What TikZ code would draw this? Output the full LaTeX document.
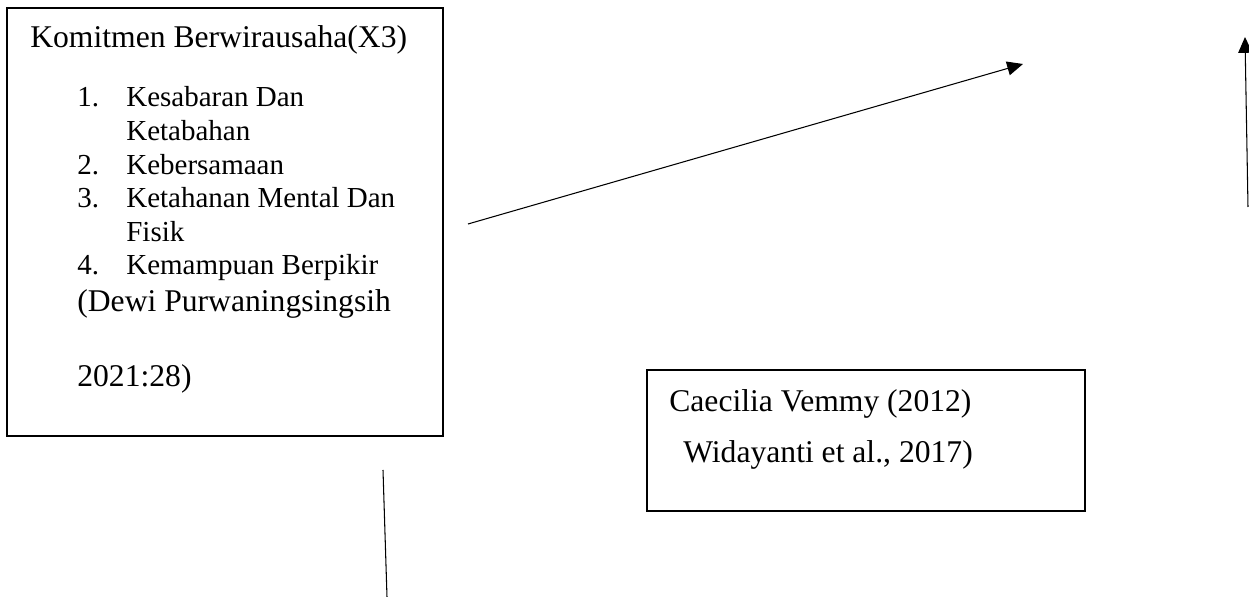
\documentclass[tikz,border=0pt]{standalone}
\usepackage{fontspec}
\setmainfont{Liberation Serif}
\usetikzlibrary{arrows.meta}

\tikzset{
  kotak/.style={draw, line width=1.1pt, inner sep=0pt},
  teks/.style={anchor=base west, inner sep=0pt, font=\fontsize{18}{21}\selectfont},
  butir/.style={anchor=base west, inner sep=0pt, font=\fontsize{16.5}{19}\selectfont},
  panah/.style={line width=0.6pt, -{Triangle[length=9pt,width=8pt]}},
  garis/.style={line width=0.6pt}
}

\begin{document}
\begin{tikzpicture}[x=0.02cm, y=-0.02cm]
        \useasboundingbox (0,0) rectangle (1249,597);
        % kotak kiri
        \node[kotak, minimum width=8.72cm, minimum height=8.56cm] (komitmen) at (225,222) {};
        \node[teks] (judul) at (30,48) {Komitmen Berwirausaha(X3)};
        \foreach \n/\y/\t in {1/107/Kesabaran Dan, 2/175/Kebersamaan, 3/208/Ketahanan Mental Dan, 4/275/Kemampuan Berpikir} {
          \node[butir] (no\n) at (77,\y) {\n.};
          \node[butir] (item\n) at (126,\y) {\t};
        }
        \node[butir] (lanjut1) at (126,141) {Ketabahan};
        \node[butir] (lanjut3) at (126,242) {Fisik};
        \node[teks] (sumber) at (77,312) {(Dewi Purwaningsingsih};
        \node[teks] (tahun) at (77,387) {2021:28)};
        % kotak kanan
        \node[kotak, minimum width=8.76cm, minimum height=2.82cm] (rujukan) at (866,440.5) {};
        \node[teks] (caecilia) at (669,412) {Caecilia Vemmy (2012)};
        \node[teks] (widayanti) at (683,463) {Widayanti et al., 2017)};
        % garis dan panah
        \coordinate (p1) at (468,224);
        \coordinate (p2) at (1023,64);
        \coordinate (p3) at (1248,207);
        \coordinate (p4) at (1245,37);
        \coordinate (p5) at (383,470);
        \coordinate (p6) at (387,597);
        \draw[panah] (p1) -- (p2);
        \draw[panah] (p3) -- (p4);
        \draw[garis] (p5) -- (p6);
      \end{tikzpicture}
\end{document}
